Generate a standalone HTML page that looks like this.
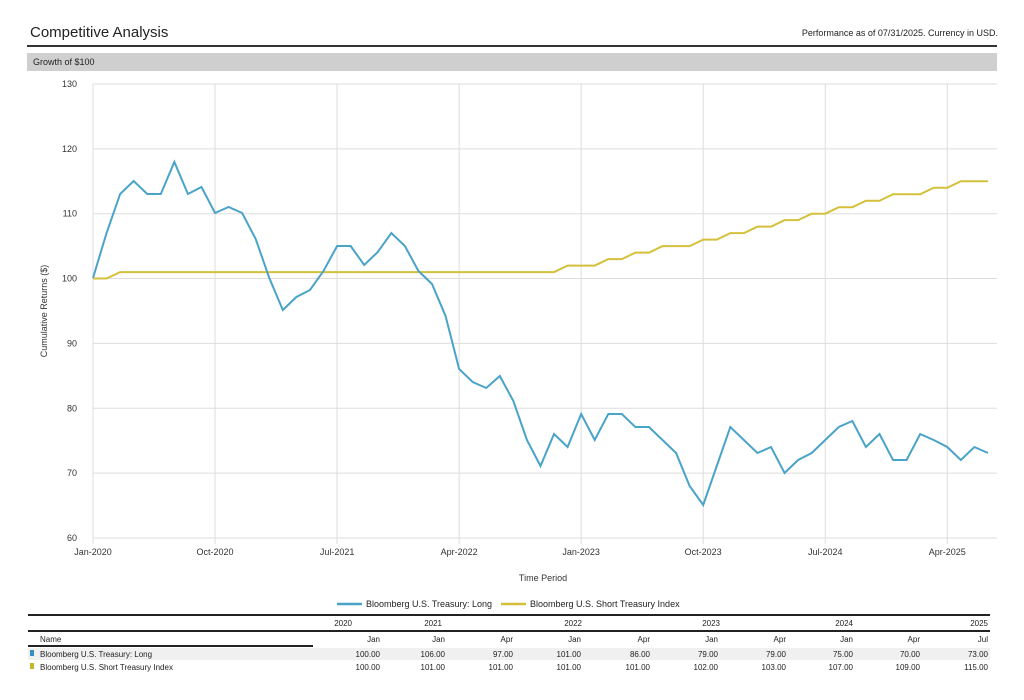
<!DOCTYPE html>
<html><head><meta charset="utf-8"><style>
body{margin:0;width:1024px;height:700px;background:#fff;font-family:"Liberation Sans",sans-serif;position:relative;overflow:hidden}
.a{position:absolute;white-space:nowrap}
.r{text-align:right}
</style></head><body>
<div class="a" style="left:30px;top:24px;font-size:15px;color:#222">Competitive Analysis</div>
<div class="a" style="right:26px;top:28px;font-size:9px;color:#222">Performance as of 07/31/2025. Currency in USD.</div>
<div class="a" style="left:27px;top:45px;width:970px;height:1.5px;background:#333"></div>
<div class="a" style="left:27px;top:53px;width:970px;height:18px;background:#cfcfcf"></div>
<div class="a" style="left:33px;top:57px;font-size:9px;color:#222">Growth of $100</div>
<svg class="a" style="left:0;top:0" width="1024" height="700" id="s">
<g stroke="#ddd" stroke-width="1" id="grid"></g>
<g font-size="9" fill="#333" font-family="Liberation Sans" id="lab"></g>
<text x="47" y="311" font-size="9" fill="#333" transform="rotate(-90 47 311)" text-anchor="middle">Cumulative Returns ($)</text>
<text x="543" y="581" font-size="9" fill="#333" text-anchor="middle">Time Period</text>
<polyline id="y" fill="none" stroke="#d4c03a" stroke-width="2"/>
<polyline id="b" fill="none" stroke="#4aa3c8" stroke-width="2"/>
<line x1="337" y1="604" x2="362" y2="604" stroke="#4aa3c8" stroke-width="2.5"/>
<text x="366" y="607" font-size="9" fill="#222">Bloomberg U.S. Treasury: Long</text>
<line x1="501" y1="604" x2="526" y2="604" stroke="#d4c03a" stroke-width="2.5"/>
<text x="530" y="607" font-size="9" fill="#222">Bloomberg U.S. Short Treasury Index</text>
<line x1="28" y1="615" x2="990" y2="615" stroke="#222" stroke-width="2"/>
<line x1="28" y1="631" x2="990" y2="631" stroke="#222" stroke-width="2"/>
<line x1="28" y1="646" x2="313" y2="646" stroke="#222" stroke-width="2"/>
<rect x="28" y="648" width="962" height="12" fill="#f0f0f0"/>
<rect x="30" y="650" width="4" height="6" fill="#3a8fc0"/>
<rect x="30" y="663" width="4" height="6" fill="#c8b530"/>
<g font-size="8" fill="#222" id="tb"></g>
</svg>
<script>
var X=i=>93+13.56*i;
var g='',l='';
for(var v=60;v<=130;v+=10){var y=538-(v-60)*6.486;g+=`<line x1="93" y1="${y}" x2="997" y2="${y}"/>`;l+=`<text x="77" y="${y+3}" text-anchor="end">${v}</text>`;}
var xl=['Jan-2020','Oct-2020','Jul-2021','Apr-2022','Jan-2023','Oct-2023','Jul-2024','Apr-2025'];
xl.forEach((t,k)=>{var x=X(9*k);g+=`<line x1="${x}" y1="84" x2="${x}" y2="544"/>`;l+=`<text x="${x}" y="555" text-anchor="middle">${t}</text>`;});
document.getElementById('grid').innerHTML=g;document.getElementById('lab').innerHTML=l;
var by=[278,233,194,181,194,194,162,194,187,213,207,213,239,278,310,297,290,271,246,246,265,252,233,246,271,284,316,369,382,388,376,401,440,466,434,447,414,440,414,414,427,427,440,453,486,505,466,427,440,453,447,473,460,453,440,427,421,447,434,460,460,434,440,447,460,447,453];
var yv=[100,100];for(var i=2;i<=34;i++)yv.push(101);
yv=yv.concat([102,102,102,103,103,104,104,105,105,105,106,106,107,107,108,108,109,109,110,110,111,111,112,112,113,113,113,114,114,115,115,115]);
document.getElementById('b').setAttribute('points',by.map((y,i)=>X(i)+','+y).join(' '));
document.getElementById('y').setAttribute('points',yv.slice(0,67).map((v,i)=>X(i)+','+(538-(v-60)*6.486)).join(' '));
var t='';
[[352,'2020'],[442,'2021'],[582,'2022'],[720,'2023'],[853,'2024'],[988,'2025']].forEach(a=>t+=`<text x="${a[0]}" y="626" text-anchor="end">${a[1]}</text>`);
t+=`<text x="40" y="642">Name</text><text x="40" y="657">Bloomberg U.S. Treasury: Long</text><text x="40" y="670">Bloomberg U.S. Short Treasury Index</text>`;
var cx=[380,445,513,581,650,718,786,853,920,988],m=['Jan','Jan','Apr','Jan','Apr','Jan','Apr','Jan','Apr','Jul'],
r1=['100.00','106.00','97.00','101.00','86.00','79.00','79.00','75.00','70.00','73.00'],r2=['100.00','101.00','101.00','101.00','101.00','102.00','103.00','107.00','109.00','115.00'];
cx.forEach((x,i)=>{t+=`<text x="${x}" y="642" text-anchor="end">${m[i]}</text><text x="${x}" y="657" text-anchor="end">${r1[i]}</text><text x="${x}" y="670" text-anchor="end">${r2[i]}</text>`;});
document.getElementById('tb').innerHTML=t;
</script>
</body></html>
